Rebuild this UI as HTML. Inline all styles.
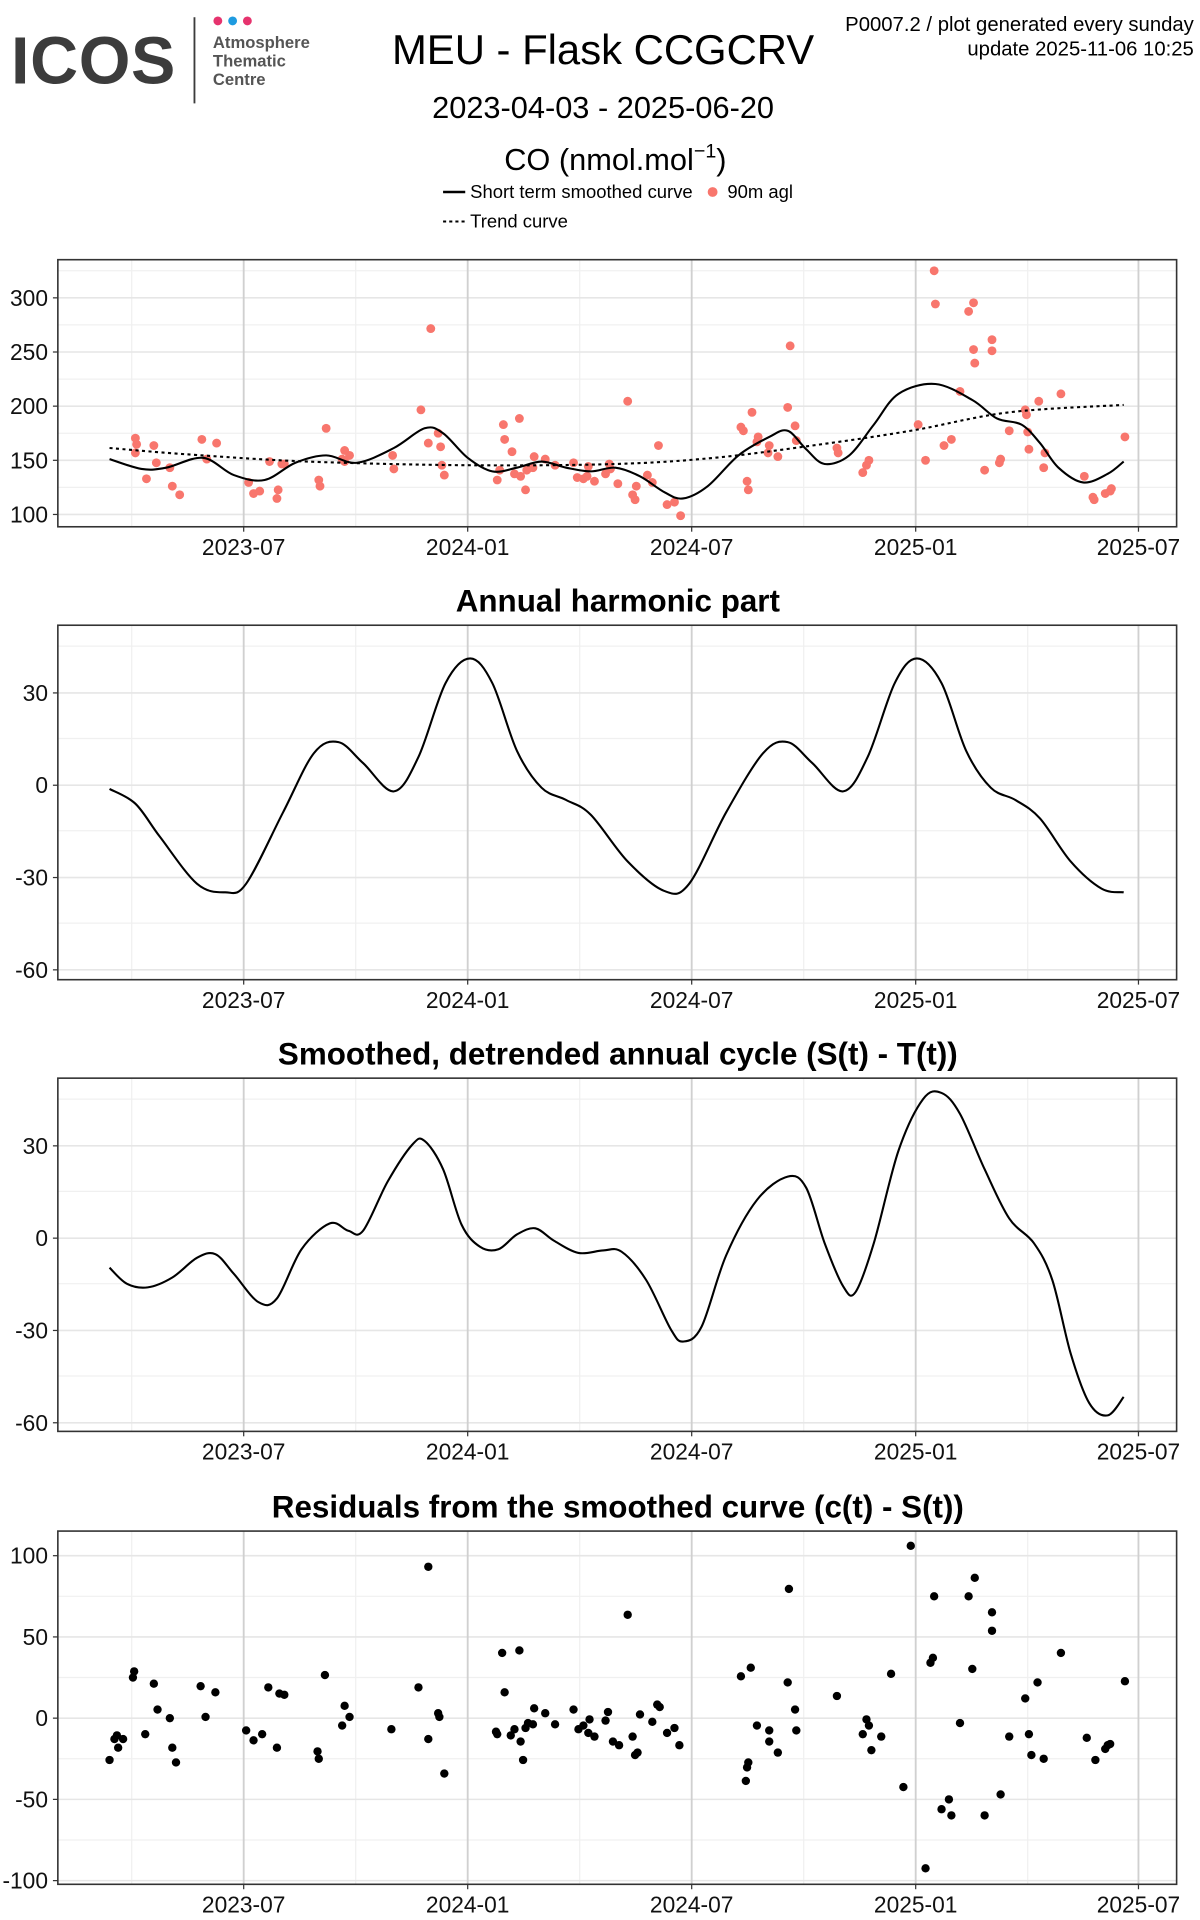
<!DOCTYPE html>
<html><head><meta charset="utf-8"><style>
html,body{margin:0;padding:0;background:#fff;}
svg{display:block;font-family:"Liberation Sans",Arial,sans-serif;}
</style></head><body>
<svg id="s" width="1200" height="1920" viewBox="0 0 975 1560" preserveAspectRatio="none" xmlns="http://www.w3.org/2000/svg">
<rect width="975" height="1560" fill="#fff"/>
<text x="9" y="68" font-size="54" font-weight="bold" fill="#3c3c3c" letter-spacing="0.5">ICOS</text>
<line x1="158" y1="14" x2="158" y2="84" stroke="#3c3c3c" stroke-width="1.5"/>
<circle cx="177" cy="17" r="3.6" fill="#e6336e"/><circle cx="189" cy="17" r="3.6" fill="#1e9be0"/><circle cx="201" cy="17" r="3.6" fill="#e6336e"/>
<g font-size="13.5" font-weight="bold" fill="#555"><text x="173" y="39">Atmosphere</text><text x="173" y="54">Thematic</text><text x="173" y="69">Centre</text></g>
<text x="490" y="52" font-size="34" text-anchor="middle">MEU - Flask CCGCRV</text>
<text x="490" y="96" font-size="25" text-anchor="middle">2023-04-03 - 2025-06-20</text>
<text x="500" y="138" font-size="25" text-anchor="middle">CO (nmol.mol<tspan dy="-10" font-size="16">−1</tspan><tspan dy="10">)</tspan></text>
<g font-size="16.5" text-anchor="end"><text x="970" y="25">P0007.2 / plot generated every sunday</text><text x="970" y="45">update  2025-11-06 10:25</text></g>
<line x1="360" y1="156" x2="378" y2="156" stroke="#000" stroke-width="2"/>
<text x="382" y="161" font-size="15">Short term smoothed curve</text>
<circle cx="579" cy="156" r="4" fill="#f8766d"/>
<text x="591" y="161" font-size="15">90m agl</text>
<line x1="360" y1="180" x2="378" y2="180" stroke="#000" stroke-width="1.6" stroke-dasharray="2.5,2.5"/>
<text x="382" y="185" font-size="15">Trend curve</text>
<g font-size="25.5" font-weight="bold" text-anchor="middle">
<text x="502" y="497">Annual harmonic part</text>
<text x="502" y="865">Smoothed, detrended annual cycle (S(t) - T(t))</text>
<text x="502" y="1233">Residuals from the smoothed curve (c(t) - S(t))</text>
</g>
<g id="g"></g>
</svg>
<script>
var NS="http://www.w3.org/2000/svg",G=document.getElementById("g");
function el(t,a,txt){var e=document.createElementNS(NS,t);for(var k in a)e.setAttribute(k,a[k]);if(txt!==undefined)e.textContent=txt;G.appendChild(e);return e;}
var X0=47,X1=956,majX=[198,380,562,744,925],minX=[107,289,471,653,835],xl=["2023-07","2024-01","2024-07","2025-01","2025-07"];
function panel(top,bot,ticks,minors){
 el("rect",{x:X0,y:top,width:X1-X0,height:bot-top,fill:"#fff"});
 minors.forEach(function(y){el("line",{x1:X0,x2:X1,y1:y,y2:y,stroke:"#f0f0f0","stroke-width":1});});
 minX.forEach(function(x){el("line",{x1:x,x2:x,y1:top,y2:bot,stroke:"#f0f0f0","stroke-width":1});});
 ticks.forEach(function(t){el("line",{x1:X0,x2:X1,y1:t[0],y2:t[0],stroke:"#e6e6e6","stroke-width":1.3});
  el("line",{x1:X0-4,x2:X0,y1:t[0],y2:t[0],stroke:"#333","stroke-width":1});
  el("text",{x:X0-8,y:t[0]+6.5,"font-size":18.5,"text-anchor":"end",fill:"#111"},t[1]);});
 majX.forEach(function(x,i){el("line",{x1:x,x2:x,y1:top,y2:bot,stroke:"#d0d0d0","stroke-width":1.5});
  el("line",{x1:x,x2:x,y1:bot,y2:bot+4,stroke:"#333","stroke-width":1});
  el("text",{x:x,y:bot+23,"font-size":18.5,"text-anchor":"middle",fill:"#111"},xl[i]);});
 el("rect",{x:X0,y:top,width:X1-X0,height:bot-top,fill:"none",stroke:"#333","stroke-width":1.3});
}
function cr(p){var d="M"+p[0][0]+","+p[0][1];for(var i=0;i<p.length-1;i++){var a=p[i-1]||p[i],b=p[i],c=p[i+1],e=p[i+2]||c;
 d+=" C"+(b[0]+(c[0]-a[0])/6)+","+(b[1]+(c[1]-a[1])/6)+" "+(c[0]-(e[0]-b[0])/6)+","+(c[1]-(e[1]-b[1])/6)+" "+c[0]+","+c[1];}return d;}
function curve(p,dash){var a={d:cr(p),fill:"none",stroke:"#000","stroke-width":1.7};if(dash)a["stroke-dasharray"]="2.5,2.8";el("path",a);}
function pts(p,c,r){p.forEach(function(q){el("circle",{cx:q[0],cy:q[1],r:r,fill:c});});}
panel(211,428,[[242,"300"],[286,"250"],[330,"200"],[374,"150"],[418,"100"]],[220,264,308,352,396]);
pts([[110,356],[111,361],[110,368],[119,389],[125,362],[127,376],[138,380],[140,395],[146,402],[164,357],[168,373],[176,360],[202,392],[206,401],[211,399],[219,375],[225,405],[226,398],[229,377],[231,377],[259,390],[260,395],[265,348],[278,373],[280,366],[284,370],[280,375],[319,370],[320,381],[342,333],[350,267],[348,360],[356,352],[358,363],[361,386],[359,378],[404,390],[406,382],[409,345],[410,357],[416,367],[418,385],[422,340],[423,387],[427,398],[428,382],[430,380],[433,380],[434,371],[443,373],[451,378],[466,376],[469,388],[474,389],[477,387],[478,379],[483,391],[492,385],[495,377],[496,381],[502,393],[510,326],[514,402],[516,406],[517,395],[526,386],[530,392],[535,362],[542,410],[548,408],[553,419],[602,347],[604,350],[607,391],[608,398],[611,335],[615,359],[616,355],[624,368],[625,362],[632,371],[642,281],[640,331],[646,346],[647,358],[680,364],[681,368],[701,384],[704,378],[706,374],[746,345],[752,374],[759,220],[760,247],[767,362],[773,357],[780,318],[787,253],[791,246],[791,284],[792,295],[800,382],[806,285],[806,276],[812,376],[813,373],[820,350],[833,333],[834,337],[835,351],[836,365],[844,326],[848,380],[849,368],[862,320],[881,387],[888,404],[889,406],[898,401],[902,399],[903,397],[914,355]],"#f8766d",3.6);
curve([[89,364],[150,369],[250,375],[380,378],[500,377],[580,372],[660,362],[740,350],[820,335],[913,329]],true);
curve([[89,373],[115,381],[135,380],[165,372],[190,386],[215,390],[240,376],[265,370],[290,376],[320,364],[345,348],[360,352],[380,372],[400,383],[420,380],[440,375],[460,380],[480,383],[500,380],[520,387],[540,400],[555,405],[575,395],[600,370],[625,355],[640,350],[655,365],[670,377],[690,370],[710,345],[730,320],[760,312],[790,325],[810,340],[830,345],[845,360],[860,380],[880,392],[900,385],[913,375]]);
panel(508,796,[[563,"30"],[638,"0"],[713,"-30"],[788,"-60"]],[525,600,675,750]);
curve([[89,641],[110,653],[130,680],[160,718],[183,725],[200,718],[230,660],[255,612],[275,603],[295,620],[320,643],[340,615],[362,555],[382,535],[400,555],[420,610],[440,640],[460,650],[480,662],[510,700],[540,724],[560,718],[590,660],[620,612],[640,603],[660,620],[685,643],[705,615],[727,555],[745,535],[765,555],[785,610],[805,640],[825,650],[845,665],[870,700],[895,722],[913,725]]);
panel(876,1163,[[931,"30"],[1006,"0"],[1081,"-30"],[1156,"-60"]],[893,968,1043,1118]);
curve([[89,1030],[103,1043],[120,1046],[140,1038],[160,1022],[175,1019],[190,1035],[210,1058],[225,1055],[245,1015],[268,994],[283,1000],[295,1000],[315,960],[335,930],[345,927],[360,950],[375,995],[390,1013],[405,1015],[420,1003],[435,998],[450,1008],[470,1018],[490,1016],[505,1017],[525,1040],[545,1080],[555,1090],[570,1078],[590,1020],[615,975],[640,956],[655,965],[670,1010],[685,1045],[695,1050],[710,1010],[730,935],[750,893],[765,888],[780,905],[800,950],[820,990],[840,1010],[855,1040],[870,1100],[885,1140],[900,1150],[913,1135]]);
panel(1244,1531,[[1264,"100"],[1330,"50"],[1396,"0"],[1462,"-50"],[1528,"-100"]],[1297,1363,1429,1495]);
pts([[89,1430],[93,1413],[96,1420],[95,1410],[100,1413],[108,1363],[109,1358],[118,1409],[125,1368],[128,1389],[138,1396],[140,1420],[143,1432],[163,1370],[167,1395],[175,1375],[200,1406],[206,1414],[213,1409],[218,1371],[225,1420],[227,1376],[231,1377],[258,1423],[259,1429],[264,1361],[278,1402],[280,1386],[284,1395],[318,1405],[340,1371],[348,1273],[348,1413],[356,1392],[357,1395],[361,1441],[403,1407],[404,1409],[408,1343],[410,1375],[415,1410],[418,1405],[422,1341],[423,1415],[425,1430],[427,1404],[429,1400],[433,1401],[434,1388],[443,1392],[451,1401],[466,1389],[470,1405],[474,1402],[478,1408],[479,1397],[483,1411],[492,1398],[494,1391],[498,1415],[503,1418],[510,1312],[514,1411],[516,1426],[518,1424],[520,1393],[530,1399],[534,1385],[536,1387],[542,1408],[548,1404],[552,1418],[602,1362],[606,1447],[607,1436],[608,1432],[610,1355],[615,1402],[625,1415],[625,1406],[632,1424],[641,1291],[640,1367],[646,1389],[647,1406],[680,1378],[701,1409],[704,1397],[706,1402],[708,1422],[716,1411],[724,1360],[734,1452],[740,1256],[752,1518],[756,1351],[758,1347],[759,1297],[765,1470],[771,1462],[773,1475],[780,1400],[787,1297],[790,1356],[792,1282],[800,1475],[806,1310],[806,1325],[813,1458],[820,1411],[833,1380],[836,1409],[838,1426],[843,1367],[848,1429],[862,1343],[883,1412],[890,1430],[898,1421],[900,1418],[902,1417],[914,1366]],"#000",3.4);
</script>
</body></html>
